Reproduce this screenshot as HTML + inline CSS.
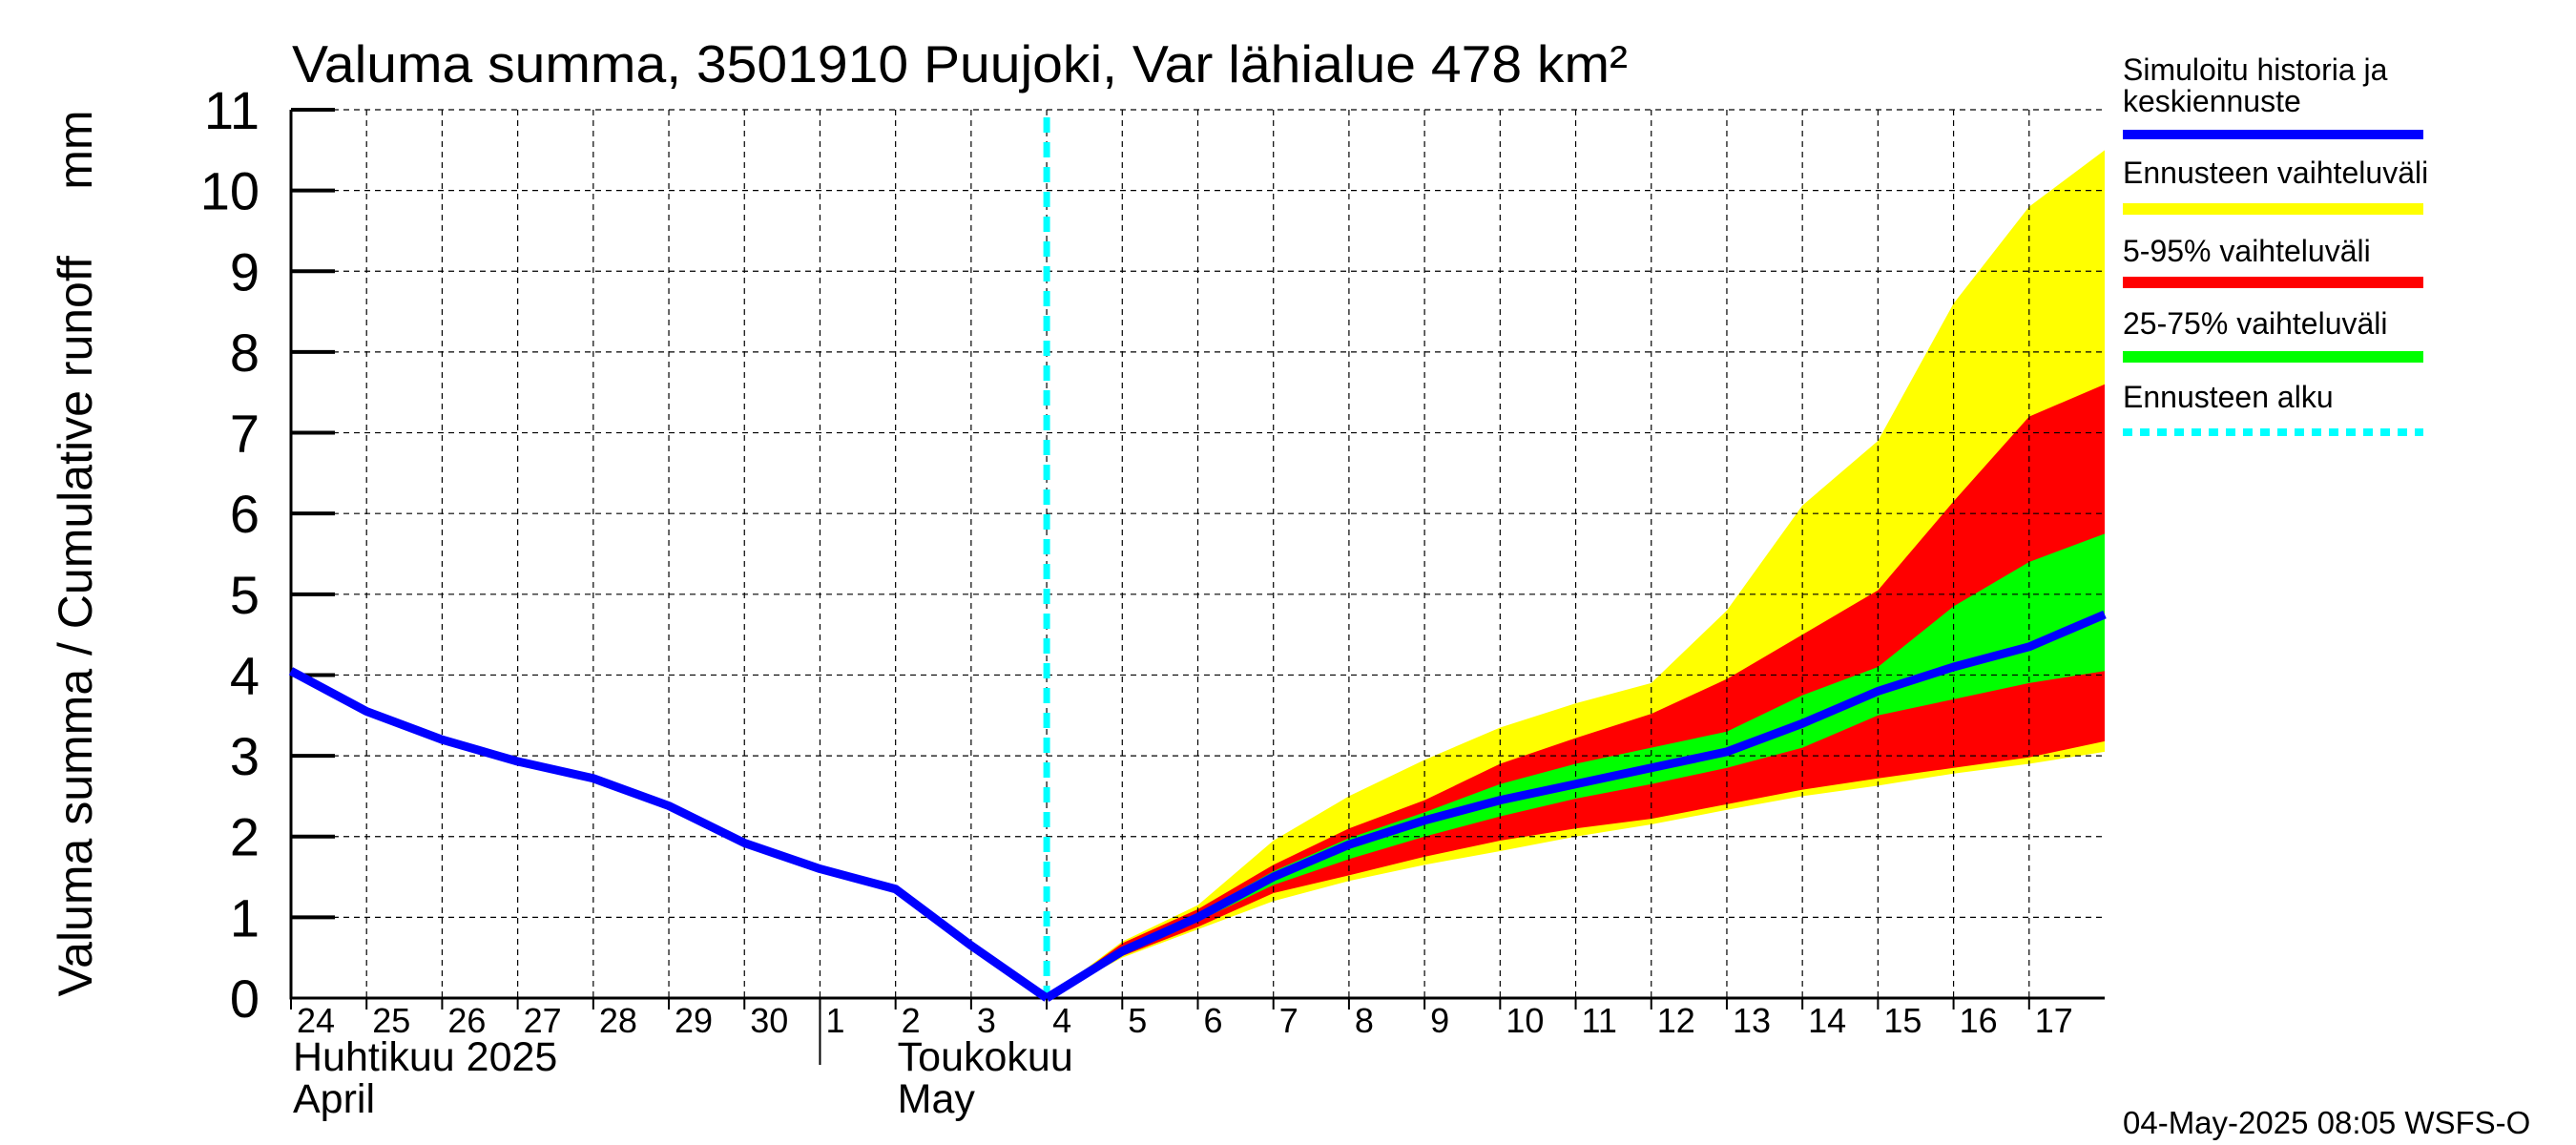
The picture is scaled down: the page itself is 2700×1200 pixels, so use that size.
<!DOCTYPE html>
<html><head><meta charset="utf-8"><style>html,body{margin:0;padding:0;background:#fff}svg{display:block}</style></head>
<body>
<svg id="c" width="2700" height="1200" viewBox="0 0 2700 1200" xmlns="http://www.w3.org/2000/svg" font-family="Liberation Sans, sans-serif">
<text x="306" y="86" font-size="55" textLength="1400" lengthAdjust="spacingAndGlyphs">Valuma summa, 3501910 Puujoki, Var lähialue 478 km²</text>
<text transform="translate(96,580) rotate(-90)" text-anchor="middle" font-size="50" xml:space="preserve">Valuma summa / Cumulative runoff     mm</text>
<g id="plot"></g>
<g font-size="32">
<text x="2225" y="84">Simuloitu historia ja</text>
<text x="2225" y="117">keskiennuste</text>
<line x1="2225" y1="141" x2="2540" y2="141" stroke="#0000ff" stroke-width="10"/>
<text x="2225" y="192">Ennusteen vaihteluväli</text>
<line x1="2225" y1="219" x2="2540" y2="219" stroke="#ffff00" stroke-width="12"/>
<text x="2225" y="274">5-95% vaihteluväli</text>
<line x1="2225" y1="296" x2="2540" y2="296" stroke="#ff0000" stroke-width="12"/>
<text x="2225" y="350">25-75% vaihteluväli</text>
<line x1="2225" y1="374" x2="2540" y2="374" stroke="#00ff00" stroke-width="12"/>
<text x="2225" y="427">Ennusteen alku</text>
<line x1="2225" y1="453" x2="2540" y2="453" stroke="#00ffff" stroke-width="8" stroke-dasharray="10,8"/>
</g>
<text x="2225" y="1188" font-size="33">04-May-2025 08:05 WSFS-O</text>
</svg>
<script>
const dayLabels=["24","25","26","27","28","29","30","1","2","3","4","5","6","7","8","9","10","11","12","13","14","15","16","17"];
const yTicks=[0,1,2,3,4,5,6,7,8,9,10,11];
const histIdx=[0,1,2,3,4,5,6,7,8,9,10];
const histVals=[4.05,3.55,3.2,2.93,2.72,2.38,1.92,1.6,1.35,0.65,0];
const fcIdx=[10,11,12,13,14,15,16,17,18,19,20,21,22,23,24];
const fcMedian=[0,0.58,1.0,1.5,1.9,2.2,2.45,2.65,2.85,3.05,3.4,3.8,4.1,4.35,4.75];
const yelMax=[0,0.7,1.15,1.95,2.5,2.95,3.35,3.65,3.9,4.8,6.1,6.9,8.6,9.8,10.5];
const yelMin=[0,0.5,0.85,1.2,1.45,1.65,1.82,2.0,2.15,2.33,2.5,2.63,2.78,2.9,3.05];
const redMax=[0,0.68,1.1,1.65,2.1,2.45,2.9,3.22,3.52,3.95,4.5,5.05,6.15,7.2,7.6];
const redMin=[0,0.52,0.88,1.3,1.52,1.75,1.95,2.1,2.22,2.4,2.58,2.72,2.85,2.98,3.18];
const grnMax=[0,0.62,1.05,1.57,1.98,2.3,2.65,2.9,3.1,3.3,3.75,4.1,4.85,5.4,5.75];
const grnMin=[0,0.56,0.95,1.4,1.72,2.0,2.25,2.47,2.65,2.85,3.1,3.5,3.7,3.9,4.05];
const forecastStart=10;
const X0=305,X1=2206,Y0=1046,Y1=115,NDAYS=24,YMAX=11;
const xs=i=>X0+(X1-X0)*i/NDAYS;
const ys=v=>Y0-(Y0-Y1)*v/YMAX;
const NS="http://www.w3.org/2000/svg";
const g=document.getElementById('plot');
function mk(t,a,p){const e=document.createElementNS(NS,t);for(const k in a)e.setAttribute(k,a[k]);(p||g).appendChild(e);return e;}
function band(hi,lo,col,name){
 let d=fcIdx.map((i,k)=>(k?'L':'M')+xs(i)+','+ys(hi[k])).join('');
 for(let k=fcIdx.length-1;k>=0;k--)d+='L'+xs(fcIdx[k])+','+ys(lo[k]);
 const p=mk('path',{d:d+'Z',fill:col});
 
 
}
band(yelMax,yelMin,'#ffff00','band-full-range');
band(redMax,redMin,'#ff0000','band-5-95');
band(grnMax,grnMin,'#00ff00','band-25-75');
for(let i=1;i<NDAYS;i++){const l=mk('line',{x1:xs(i),y1:Y1,x2:xs(i),y2:Y0,stroke:'#000','stroke-width':1.2,'stroke-dasharray':'6,5'});
 
 }
yTicks.forEach(v=>{
 if(v>0){const l=mk('line',{x1:X0,y1:ys(v),x2:X1,y2:ys(v),stroke:'#000','stroke-width':1.2,'stroke-dasharray':'6,5'});
 
 
 const t=mk('line',{x1:X0,y1:ys(v),x2:X0+46,y2:ys(v),stroke:'#000','stroke-width':4});
 
 }
 const tx=mk('text',{x:272,y:ys(v)+20,'text-anchor':'end','font-size':56});tx.textContent=v;
 
 
});
const ax=mk('path',{d:`M${X0},${Y1}V${Y0}H${X1}`,fill:'none',stroke:'#000','stroke-width':3});


dayLabels.forEach((s,i)=>{
 const tk=mk('line',{x1:xs(i),y1:Y0,x2:xs(i),y2:Y0+12,stroke:'#000','stroke-width':2});
 
 
 const t=mk('text',{x:xs(i)+6,y:1082,'font-size':36});t.textContent=s;
 
 
});
const sep=mk('line',{x1:xs(7),y1:Y0,x2:xs(7),y2:1116,stroke:'#000','stroke-width':2});


[[0,1122,'Huhtikuu  2025'],[0,1166,'April'],[8,1122,'Toukokuu'],[8,1166,'May']].forEach(([i,y,s])=>{
 const t=mk('text',{x:xs(i)+2,y:y,'font-size':43,'xml:space':'preserve'});t.textContent=s;
 
 
});
const cy=mk('line',{x1:xs(forecastStart),y1:Y1+8,x2:xs(forecastStart),y2:Y0,stroke:'#00ffff','stroke-width':7,'stroke-dasharray':'16,10'});


const hp=mk('polyline',{points:histIdx.map((i,k)=>xs(i)+','+ys(histVals[k])).join(' '),fill:'none',stroke:'#0000ff','stroke-width':9,'stroke-linejoin':'round'});


const fp=mk('polyline',{points:fcIdx.map((i,k)=>xs(i)+','+ys(fcMedian[k])).join(' '),fill:'none',stroke:'#0000ff','stroke-width':9,'stroke-linejoin':'round'});


</script>
</body></html>
